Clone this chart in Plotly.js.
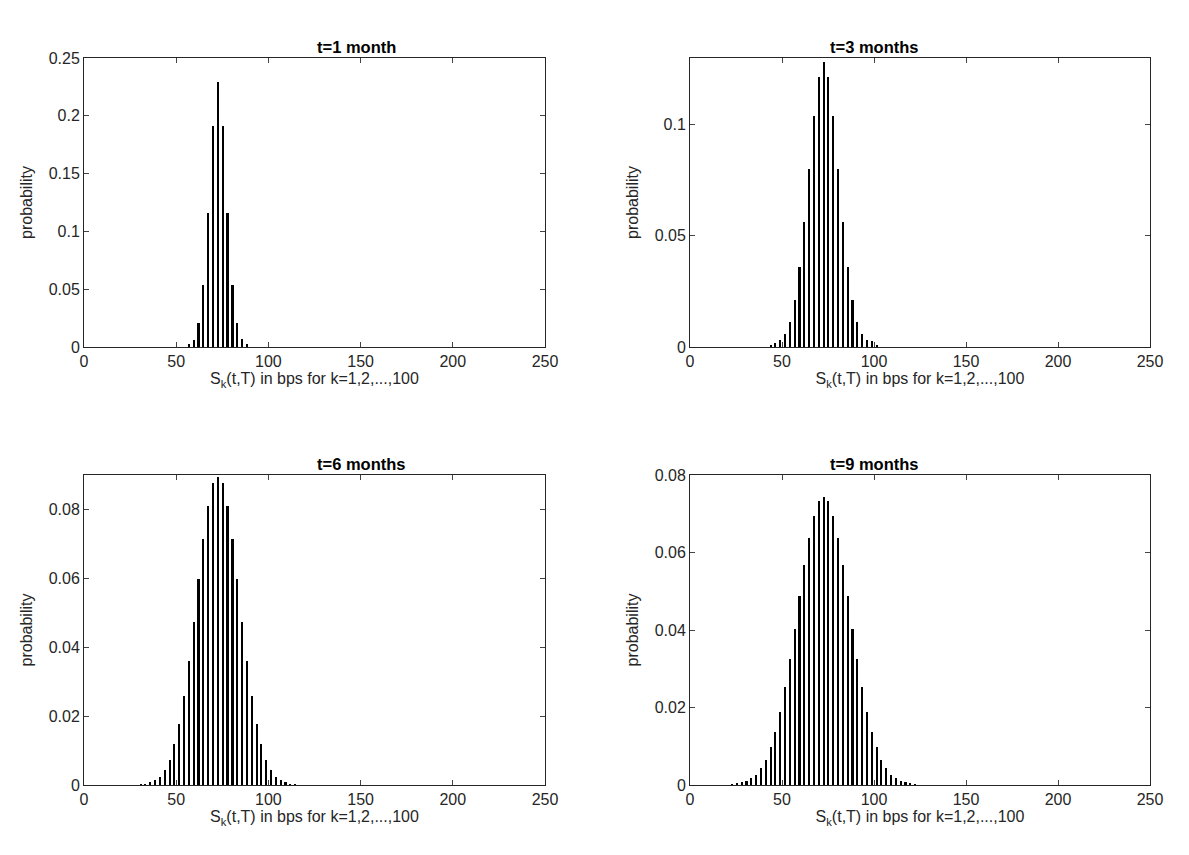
<!DOCTYPE html>
<html><head><meta charset="utf-8">
<script src="https://cdn.plot.ly/plotly-3.0.1.min.js"></script>
<style>body{margin:0;background:#fff}#c{width:1189px;height:855px}</style>
</head><body><div id="c"></div>
<script>
// spread grid S_k (bps)
const spreads = [20.2,22.8,25.4,28.1,30.7,33.3,35.9,38.5,41.2,43.8,46.4,49.0,51.6,54.3,56.9,59.5,62.1,64.7,67.4,70.0,72.6,75.2,77.8,80.5,83.1,85.7,88.3,90.9,93.6,96.2,98.8,101.4,104.0,106.7,109.3,111.9,114.5,117.1,119.8,122.4,125.0,127.6,130.2,132.9,135.5,138.1,140.7,143.3,146.0,148.6,151.2,153.8,156.4,159.1,161.7,164.3,166.9,169.5,172.2,174.8,177.4,180.0,182.6,185.3,187.9,190.5,193.1,195.7,198.4,201.0,203.6,206.2,208.8,211.5,214.1,216.7,219.3,221.9,224.6,227.2,229.8,232.4,235.0,237.7,240.3,242.9,245.5];
const titles = ["t=1 month","t=3 months","t=6 months","t=9 months"];
const startIdx = [14, 9, 4, 1];
const prob1 = [0.0027,0.0058,0.0204,0.0539,0.1155,0.191,0.229,0.191,0.1155,0.0539,0.0204,0.007,0.0027];
const prob3 = [0.001,0.002,0.003,0.0059,0.0114,0.0212,0.0359,0.0562,0.0802,0.104,0.1215,0.128,0.1215,0.104,0.0802,0.0562,0.0359,0.0212,0.0114,0.0059,0.003,0.0025,0.001];
const prob6 = [0.0002,0.0004,0.0008,0.0015,0.0024,0.0044,0.0073,0.0118,0.0177,0.0259,0.036,0.0474,0.0597,0.0713,0.081,0.0876,0.0895,0.0876,0.081,0.0713,0.0597,0.0474,0.036,0.0259,0.0177,0.0118,0.0073,0.0044,0.0024,0.0015,0.0008,0.0004,0.0002];
const prob9 = [0.0002,0.0004,0.0007,0.0011,0.0017,0.0026,0.0043,0.0065,0.0097,0.0136,0.0189,0.0252,0.0324,0.0403,0.0487,0.0568,0.0638,0.0695,0.0732,0.0743,0.0732,0.0695,0.0638,0.0568,0.0487,0.0403,0.0324,0.0252,0.0189,0.0136,0.0097,0.0065,0.0043,0.0026,0.0017,0.0011,0.0007,0.0004,0.0002];
const yMax = [0.25, 0.13, 0.09, 0.08];
const yTicks = [[0,0.05,0.1,0.15,0.2,0.25],[0,0.05,0.1],[0,0.02,0.04,0.06,0.08],[0,0.02,0.04,0.06,0.08]];
const xTicks = [0,50,100,150,200,250];
const probs = [prob1, prob3, prob6, prob9];

const W=1189,H=855;
const boxes = [[84,545,58,347],[690,1150,58,347],[84,545,475,785],[690,1150,475,785]];
const font = {family:"Liberation Sans, Arial, sans-serif", size:16, color:"#262626"};
const data=[], layout={width:W,height:H,margin:{l:0,r:0,t:0,b:0},showlegend:false,paper_bgcolor:"#fff",plot_bgcolor:"#fff",font:font,annotations:[]};
probs.forEach((p,i)=>{
  const n=i+1, xs=n===1?'':n;
  const y = spreads.map((s,k)=>{const j=k-startIdx[i]; return (j>=0&&j<p.length)?p[j]:0;});
  data.push({type:"bar",x:spreads,y:y,width:1.15,marker:{color:"#000",line:{width:0}},xaxis:"x"+xs,yaxis:"y"+xs,hoverinfo:"x+y"});
  const b=boxes[i];
  const ax={domain:[b[0]/W,b[1]/W],range:[0,250],tickvals:xTicks,ticks:"inside",ticklen:5,showline:true,mirror:"ticks",linecolor:"#262626",linewidth:1,showgrid:false,zeroline:false,anchor:"y"+xs,
    title:{text:"S<sub>k</sub>(t,T) in bps for k=1,2,...,100",font:{size:16,color:"#262626"},standoff:0},tickfont:{size:16}};
  const ay={domain:[1-b[3]/H,1-b[2]/H],range:[0,yMax[i]],tickvals:yTicks[i],ticktext:yTicks[i].map(String),ticks:"inside",ticklen:5,showline:true,mirror:"ticks",linecolor:"#262626",linewidth:1,showgrid:false,zeroline:false,anchor:"x"+xs,
    title:{text:"probability",font:{size:16,color:"#262626"},standoff:12},tickfont:{size:16}};
  layout["xaxis"+xs]=ax; layout["yaxis"+xs]=ay;
  layout.annotations.push({text:"<b>"+titles[i]+"</b>",xref:"paper",yref:"paper",x:(b[0]+b[1])/2/W,y:1-b[2]/H,yanchor:"bottom",showarrow:false,font:{size:16.5,color:"#000"},yshift:0});
});
layout.bargap=0;
Plotly.newPlot("c",data,layout,{displayModeBar:false,staticPlot:true});
</script></body></html>
